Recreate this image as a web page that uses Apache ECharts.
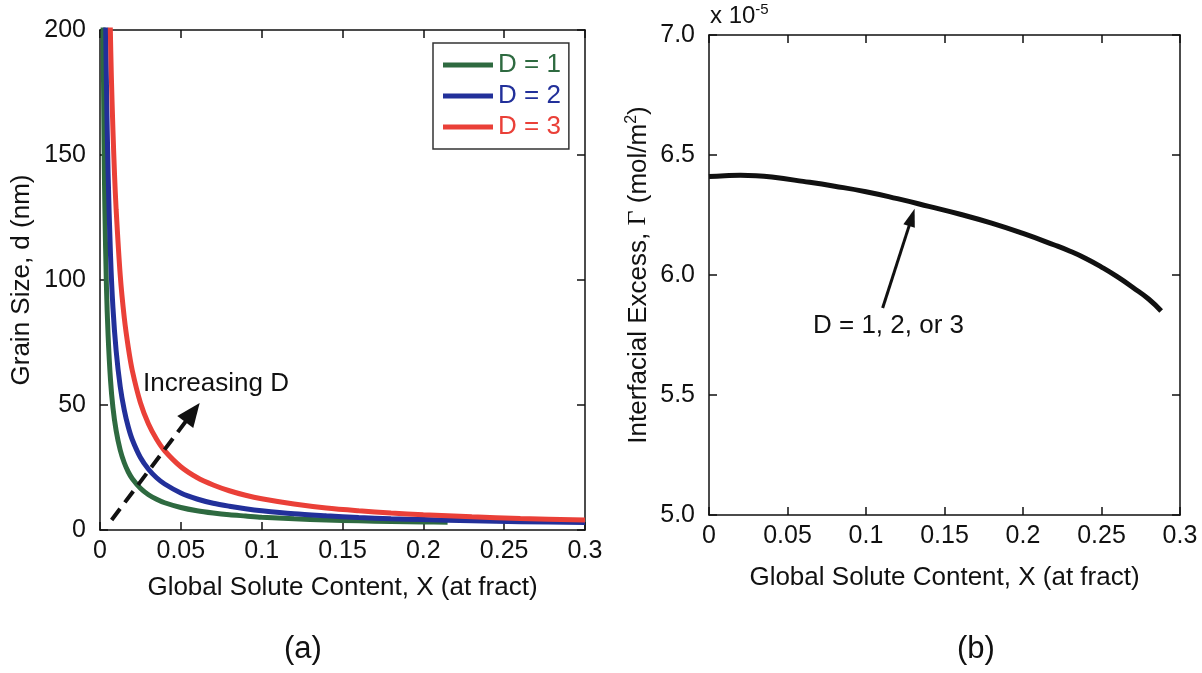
<!DOCTYPE html>
<html>
<head>
<meta charset="utf-8">
<script src="https://cdn.jsdelivr.net/npm/echarts@6/dist/echarts.min.js"></script>
<style>
html,body{margin:0;padding:0;background:#fff;}
#c{width:1202px;height:673px;}
</style>
</head>
<body>
<div id="c"></div>
<script>
// ---- Panel (a): grain size vs global solute content ----
const xD1 = [0.0019,0.0025,0.003,0.004,0.005,0.0065,0.008,0.010,0.0125,0.015,0.0175,0.020,0.025,0.030,0.035,0.040,0.050,0.060,0.070,0.080,0.090,0.100,0.120,0.140,0.160,0.180,0.200,0.215];
const dD1 = [203,155,129,97,78,60,49,39.7,32,26.9,23.2,20.5,16.7,14.1,12.3,10.9,9.0,7.7,6.8,6.1,5.6,5.1,4.5,4.0,3.7,3.4,3.2,3.1];
const xD2 = [0.0035,0.004,0.005,0.0065,0.008,0.010,0.0125,0.015,0.0175,0.020,0.025,0.030,0.035,0.040,0.050,0.060,0.070,0.080,0.090,0.100,0.120,0.140,0.160,0.180,0.200,0.230,0.260,0.300];
const dD2 = [203,178,143,110,89,71.6,57.4,48,41.2,36.1,29,24.3,20.9,18.4,14.8,12.4,10.7,9.5,8.5,7.7,6.5,5.7,5.0,4.5,4.2,3.7,3.3,3.0];
const xD3 = [0.0063,0.007,0.008,0.009,0.010,0.0125,0.015,0.0175,0.020,0.025,0.030,0.035,0.040,0.050,0.060,0.070,0.080,0.090,0.100,0.120,0.140,0.160,0.180,0.200,0.230,0.260,0.300];
const dD3 = [203,182,160,142,128,102,85,73,63.7,50.9,42.4,36.3,31.7,25.3,21.0,18.0,15.7,13.9,12.5,10.4,8.8,7.7,6.8,6.1,5.3,4.6,4.0];
const seriesNamesA = ['D = 1','D = 2','D = 3'];
const xTicksA = ['0','0.05','0.1','0.15','0.2','0.25','0.3'];
const yTicksA = ['0','50','100','150','200'];
// arrow "Increasing D" (data coords: tail, arrowhead centre)
const arrowA = [[0.0072, 4], [0.0572, 47]];

// ---- Panel (b): interfacial excess (units of 1e-5 mol/m^2) ----
const xGamma = [0,0.01,0.02,0.03,0.04,0.06,0.08,0.10,0.12,0.14,0.16,0.18,0.20,0.22,0.23,0.24,0.25,0.26,0.27,0.28,0.288];
const gamma  = [6.410,6.414,6.416,6.414,6.408,6.390,6.370,6.347,6.318,6.286,6.253,6.216,6.173,6.125,6.099,6.069,6.033,5.993,5.948,5.900,5.850];
const xTicksB = ['0','0.05','0.1','0.15','0.2','0.25','0.3'];
const yTicksB = ['5.0','5.5','6.0','6.5','7.0'];
const arrowB = [[0.1106, 5.8625], [0.1292, 6.24]];

const FONT = '"Liberation Sans", Arial, sans-serif';
const colors = ['#2e6a40', '#22309a', '#ea4038'];
const zip = (a, b) => a.map((v, i) => [v, b[i]]);

const chart = echarts.init(document.getElementById('c'), null, {renderer: 'canvas'});

const lineCol = '#111';
const TICK_FS = 25;
const NAME_FS = 26;
function xAxisBase(grid, labels, pos, show) {
  return {
    gridIndex: grid, type: 'value', min: 0, max: 0.3, interval: 0.05, position: pos,
    axisLine: {show: true, onZero: false, lineStyle: {color: lineCol, width: 1.5}},
    axisTick: {show: true, inside: true, length: 8, lineStyle: {color: lineCol, width: 1.5}},
    splitLine: {show: false},
    axisLabel: {show: show, color: '#111', fontSize: TICK_FS, fontFamily: FONT, margin: 9,
      formatter: (v) => labels[Math.round(v / 0.05)]}
  };
}
function yAxisBase(grid, min, max, interval, labels, pos, show) {
  return {
    gridIndex: grid, type: 'value', min: min, max: max, interval: interval, position: pos,
    axisLine: {show: true, onZero: false, lineStyle: {color: lineCol, width: 1.5}},
    axisTick: {show: true, inside: true, length: 8, lineStyle: {color: lineCol, width: 1.5}},
    splitLine: {show: false},
    axisLabel: {show: show, color: '#111', fontSize: TICK_FS, fontFamily: FONT, margin: 14,
      formatter: (v) => labels[Math.round((v - min) / interval)]}
  };
}

const xA = xAxisBase(0, xTicksA, 'bottom', true);
xA.name = 'Global Solute Content, X (at fract)';
xA.nameLocation = 'middle'; xA.nameGap = 45;
xA.nameTextStyle = {color: '#111', fontSize: NAME_FS, fontFamily: FONT};
const yA = yAxisBase(0, 0, 200, 50, yTicksA, 'left', true);
yA.name = 'Grain Size, d (nm)';
yA.nameLocation = 'middle'; yA.nameGap = 65;
yA.nameTextStyle = {color: '#111', fontSize: NAME_FS, fontFamily: FONT};

const xB = xAxisBase(1, xTicksB, 'bottom', true);
xB.name = 'Global Solute Content, X (at fract)';
xB.nameLocation = 'middle'; xB.nameGap = 50;
xB.nameTextStyle = {color: '#111', fontSize: NAME_FS, fontFamily: FONT};
const yB = yAxisBase(1, 5, 7, 0.5, yTicksB, 'left', true);
yB.name = 'Interfacial Excess, {g|Γ} (mol/m{sup|2})';
yB.nameLocation = 'middle'; yB.nameGap = 56;
yB.nameTextStyle = {color: '#111', fontSize: NAME_FS, fontFamily: FONT,
  rich: {g: {fontSize: NAME_FS, fontFamily: '"Liberation Serif", "Times New Roman", serif', color: '#111'},
         sup: {fontSize: 16, fontFamily: FONT, color: '#111', padding: [0, 0, 13, 0]}}};

const option = {
  backgroundColor: '#fff',
  animation: false,
  textStyle: {fontFamily: FONT},
  grid: [
    {left: 100, top: 30, width: 485, height: 500},
    {left: 709, top: 35, width: 471, height: 480}
  ],
  xAxis: [xA, xAxisBase(0, xTicksA, 'top', false), xB, xAxisBase(1, xTicksB, 'top', false)],
  yAxis: [yA, yAxisBase(0, 0, 200, 50, yTicksA, 'right', false), yB, yAxisBase(1, 5, 7, 0.5, yTicksB, 'right', false)],
  legend: {
    left: 433, top: 43, orient: 'vertical',
    backgroundColor: '#fff', borderColor: '#333', borderWidth: 1.5,
    padding: [9, 8, 9, 10], itemGap: 5, itemWidth: 50, itemHeight: 5,
    icon: 'rect',
    textStyle: {fontSize: NAME_FS, fontFamily: FONT, lineHeight: 26},
    data: seriesNamesA.map((n, i) => ({name: n, textStyle: {color: colors[i]}}))
  },
  graphic: [
    {type: 'text', left: 143, top: 371, style: {text: 'Increasing D', fontSize: NAME_FS, fontFamily: FONT, fill: '#111'}},
    {type: 'text', left: 813, top: 313, style: {text: 'D = 1, 2, or 3', fontSize: NAME_FS, fontFamily: FONT, fill: '#111'}},
    {type: 'text', left: 710, top: 2, style: {text: 'x 10{s|-5}', fontSize: 24, fontFamily: FONT, fill: '#111',
      rich: {s: {fontSize: 15, fontFamily: FONT, fill: '#111', padding: [0, 0, 13, 0]}}}},
    {type: 'text', left: 284, top: 634, style: {text: '(a)', fontSize: 31, fontFamily: FONT, fill: '#111'}},
    {type: 'text', left: 957, top: 634, style: {text: '(b)', fontSize: 31, fontFamily: FONT, fill: '#111'}}
  ],
  series: [
    {name: seriesNamesA[0], type: 'line', xAxisIndex: 0, yAxisIndex: 0, data: zip(xD1, dD1), showSymbol: false, smooth: 0.3, clip: true,
      lineStyle: {color: colors[0], width: 5}, itemStyle: {color: colors[0]}, z: 3},
    {name: seriesNamesA[1], type: 'line', xAxisIndex: 0, yAxisIndex: 0, data: zip(xD2, dD2), showSymbol: false, smooth: 0.3, clip: true,
      lineStyle: {color: colors[1], width: 5}, itemStyle: {color: colors[1]}, z: 3},
    {name: seriesNamesA[2], type: 'line', xAxisIndex: 0, yAxisIndex: 0, data: zip(xD3, dD3), showSymbol: false, smooth: 0.3, clip: true,
      lineStyle: {color: colors[2], width: 5}, itemStyle: {color: colors[2]}, z: 3,
      markLine: {silent: true, animation: false, symbol: ['none', 'triangle'], symbolSize: [20, 24],
        lineStyle: {color: '#111', width: 4, type: [14, 8]}, label: {show: false},
        data: [[{coord: arrowA[0]}, {coord: arrowA[1]}]]}},
    {name: 'Gamma', type: 'line', xAxisIndex: 2, yAxisIndex: 2, data: zip(xGamma, gamma), showSymbol: false, smooth: 0.5,
      lineStyle: {color: '#111', width: 5}, itemStyle: {color: '#111'},
      markLine: {silent: true, animation: false, symbol: ['none', 'triangle'], symbolSize: [12, 18],
        lineStyle: {color: '#111', width: 3, type: 'solid'}, label: {show: false},
        data: [[{coord: arrowB[0]}, {coord: arrowB[1]}]]}}
  ]
};
chart.setOption(option);
</script>
</body>
</html>
